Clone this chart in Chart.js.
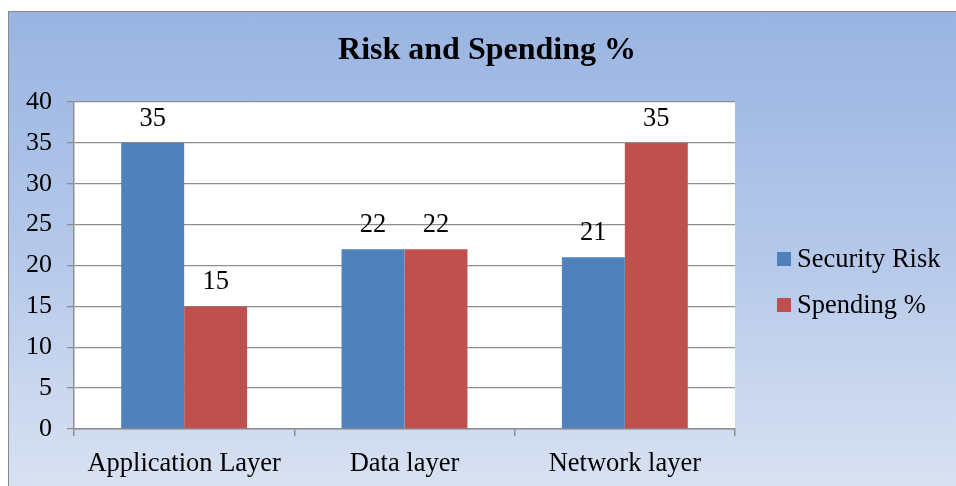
<!DOCTYPE html>
<html>
<head>
<meta charset="utf-8">
<script src="https://cdn.jsdelivr.net/npm/chart.js@4/dist/chart.umd.min.js"></script>
<style>
    html, body { margin: 0; padding: 0; background: #fff; overflow: hidden; }
    #frame {
        position: absolute; left: 8px; top: 11px; width: 1000px; height: 500px;
        border: 1.5px solid #8a8a8a;
        background: linear-gradient(to bottom, #99b4e2 0%, #b6c9ea 50%, #dce4f3 100%);
    }
    #wrap { position: absolute; left: 0; top: 0; width: 956px; height: 486px; }
</style>
</head>
<body>
<div id="frame"></div>
<div id="wrap"><canvas id="riskChart"></canvas></div>
<script>
const categories = ['Application Layer', 'Data layer', 'Network layer'];
const securityRisk = [35, 22, 21];
const spending = [15, 22, 35];
const yTicks = [0, 5, 10, 15, 20, 25, 30, 35, 40];
const chartTitle = 'Risk and Spending %';

const serif = "'Liberation Serif', 'Times New Roman', serif";
const gridGrey = '#8e8e8e';

// white plot area behind the bars, title centred over the whole frame
const plotBackground = {
    id: 'plotBackground',
    beforeDraw(chart) {
        const { ctx, chartArea } = chart;
        ctx.save();
        ctx.fillStyle = '#ffffff';
        ctx.fillRect(chartArea.left, chartArea.top, chartArea.right - chartArea.left, chartArea.bottom - chartArea.top);
        ctx.fillStyle = '#000';
        ctx.font = 'bold 32px ' + serif;
        ctx.textAlign = 'center';
        ctx.textBaseline = 'middle';
        ctx.fillText(chartTitle, 487, 51);
        ctx.restore();
    }
};

// value labels above each bar
const valueLabels = {
    id: 'valueLabels',
    afterDatasetsDraw(chart) {
        const ctx = chart.ctx;
        ctx.save();
        ctx.font = '26.5px ' + serif;
        ctx.fillStyle = '#000';
        ctx.textAlign = 'center';
        ctx.textBaseline = 'middle';
        chart.data.datasets.forEach((ds, i) => {
            chart.getDatasetMeta(i).data.forEach((bar, j) => {
                ctx.fillText(ds.data[j], bar.x, bar.y - 24);
            });
        });
        ctx.restore();
    }
};

// legend on the right side
const sideLegend = {
    id: 'sideLegend',
    afterDraw(chart) {
        const ctx = chart.ctx;
        const rows = [259, 305];
        ctx.save();
        ctx.font = '26.5px ' + serif;
        ctx.textBaseline = 'middle';
        chart.data.datasets.forEach((ds, i) => {
            const y = rows[i];
            ctx.fillStyle = ds.backgroundColor;
            ctx.fillRect(777, y - 7, 14, 14);
            ctx.fillStyle = '#000';
            ctx.fillText(ds.label, 797, y + 1);
        });
        ctx.restore();
    }
};

new Chart(document.getElementById('riskChart'), {
    type: 'bar',
    data: {
        labels: categories,
        datasets: [
            { label: 'Security Risk', data: securityRisk, backgroundColor: '#4f81bd' },
            { label: 'Spending %', data: spending, backgroundColor: '#c0504d' }
        ]
    },
    options: {
        responsive: true,
        maintainAspectRatio: false,
        animation: false,
        devicePixelRatio: 1,
        datasets: { bar: { categoryPercentage: 0.5714, barPercentage: 1 } },
        layout: { padding: { top: 102, right: 221, bottom: 0, left: 0 } },
        plugins: {
            legend: { display: false },
            tooltip: { enabled: false },
            title: { display: false }
        },
        scales: {
            x: {
                afterFit(scale) { scale.height = 57; },
                grid: { drawOnChartArea: false, color: gridGrey, tickLength: 7, lineWidth: 1.5 },
                border: { color: gridGrey, width: 1.5 },
                ticks: { color: '#000', font: { family: serif, size: 26.5 }, padding: 12, maxRotation: 0 }
            },
            y: {
                min: 0,
                max: 40,
                afterBuildTicks(scale) { scale.ticks = yTicks.map(v => ({ value: v })); },
                afterFit(scale) { scale.width = 74; },
                grid: { color: gridGrey, tickLength: 7, lineWidth: 1.3 },
                border: { color: gridGrey, width: 1.5 },
                ticks: { color: '#000', font: { family: serif, size: 26 }, padding: 15 }
            }
        }
    },
    plugins: [plotBackground, valueLabels, sideLegend]
});
</script>
</body>
</html>
